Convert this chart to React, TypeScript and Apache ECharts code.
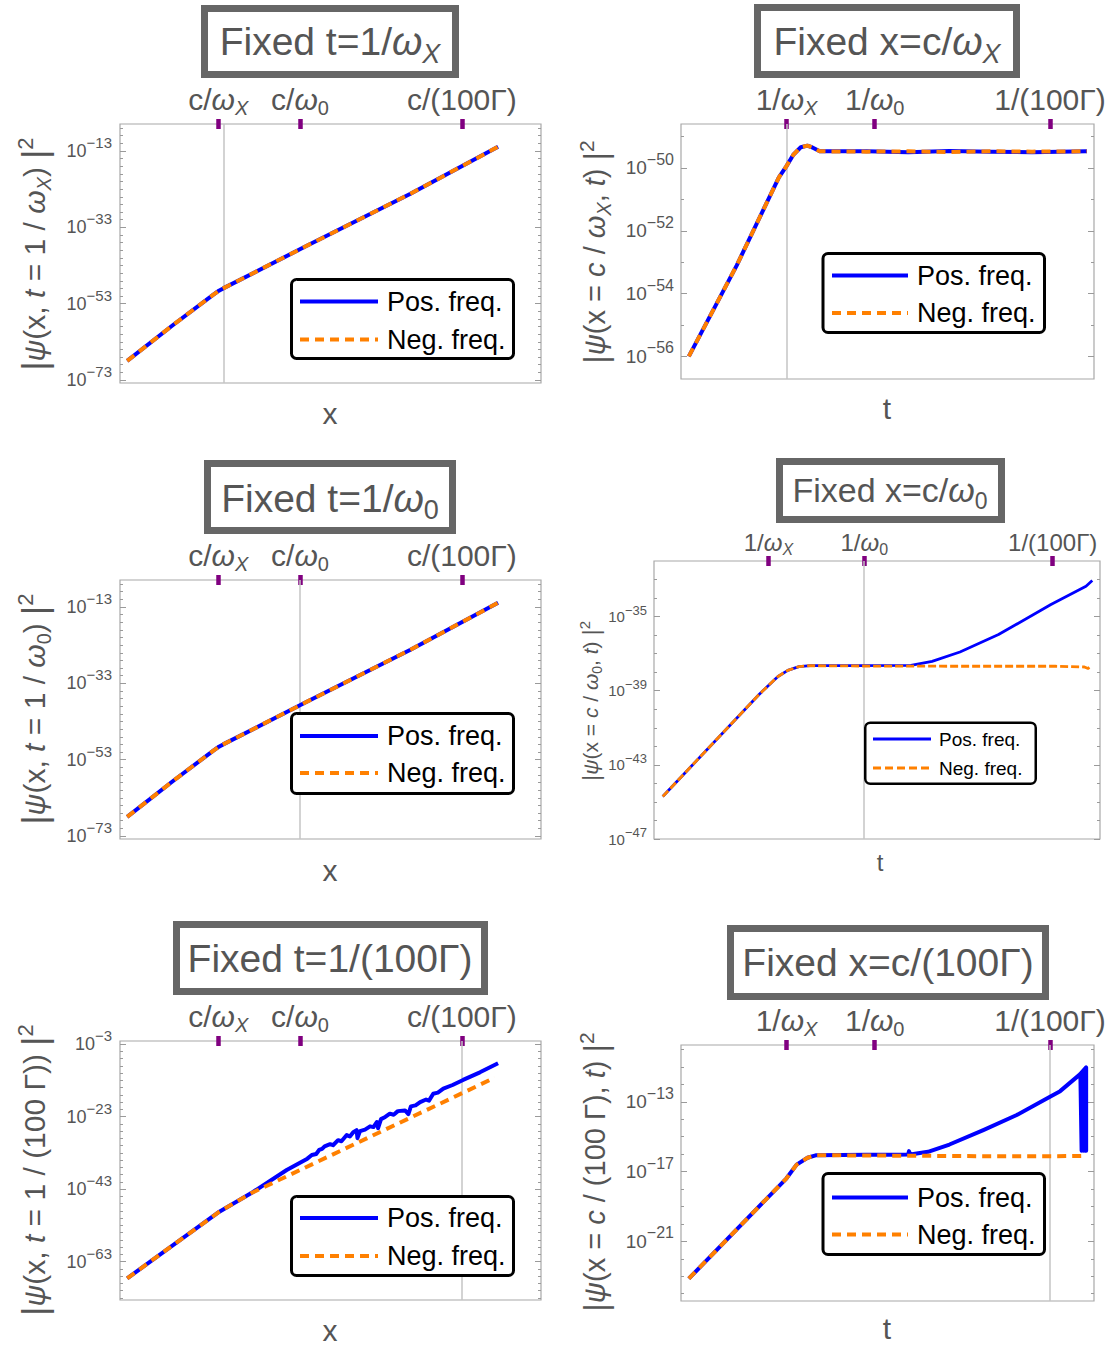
import React, { useEffect, useRef } from "react";
import * as echarts from "echarts";

const FONT = '"Liberation Sans", Arial, Helvetica, sans-serif';
const TXT = "#555555";
const FRAME = "#a8a8a8";
const TICK = "#9a9a9a";
const BLUE = "#0000ff";
const ORANGE = "#ff8000";
const PURPLE = "#800080";
const VLINE = "#c4c4c4";

// ---------- data (x: 0–100 across each frame, y: log10 |psi|^2) ----------
// Panel A: Fixed t = 1/omegaX
const aX = [1.7, 12.6, 22.1, 23.5, 24.5, 43.9, 69.0, 89.8];
const aPos = [-68.0, -58.6, -50.7, -49.6, -49.0, -38.1, -24.2, -11.9];
const aNeg = [-68.0, -58.6, -50.7, -49.6, -49.0, -38.1, -24.2, -11.9];

// Panel B: Fixed x = c/omegaX
const bX = [1.9, 13.5, 23.7, 25.5, 27.2, 29.0, 30.6, 31.7, 33.6, 45, 55, 65, 75, 85, 98.3];
const bPos = [-56.0, -53.1, -50.3, -49.95, -49.58, -49.34, -49.29, -49.34, -49.47, -49.47, -49.5, -49.46, -49.48, -49.5, -49.47];
const bNeg = [-56.0, -53.1, -50.3, -49.95, -49.58, -49.34, -49.29, -49.34, -49.47, -49.48, -49.47, -49.49, -49.47, -49.48, -49.47];

// Panel C: Fixed t = 1/omega0
const cX = [1.7, 12.6, 22.1, 23.5, 24.5, 43.9, 69.0, 89.8];
const cPos = [-68.0, -58.6, -50.7, -49.6, -49.0, -38.1, -24.2, -11.9];
const cNeg = [-68.0, -58.6, -50.7, -49.6, -49.0, -38.1, -24.2, -11.9];

// Panel D: Fixed x = c/omega0
const dPosX = [1.96, 23.56, 27.8, 30.0, 32.5, 35.0, 45, 57.6, 62.35, 68.6, 77.25, 89.0, 96.86, 98.27];
const dPos = [-44.71, -39.2, -38.23, -37.9, -37.7, -37.65, -37.65, -37.63, -37.42, -36.91, -35.97, -34.35, -33.36, -33.05];
const dNegX = [1.96, 23.56, 27.8, 30.0, 32.5, 35.0, 50, 70, 90, 96.5, 97.3, 98.0];
const dNeg = [-44.71, -39.2, -38.23, -37.9, -37.7, -37.65, -37.67, -37.68, -37.68, -37.72, -37.8, -37.68];

// Panel E: Fixed t = 1/(100 Gamma)
const ePosX = [1.71, 23.6, 31.1, 39.6, 44.5, 45.56, 46.6, 47.3, 48.0, 48.6, 49.9, 50.6, 51.8, 52.6, 53.85, 54.6, 55.4, 56.2, 56.4, 57.0, 58.2, 59.4, 60.2, 61.0, 61.3, 62.0, 63.0, 64.1, 65.0, 66.0, 67.7, 68.5, 69.1, 70.2, 71.3, 72.7, 73.4, 74.4, 75.5, 76.8, 79.0, 81.5, 85.5, 89.8];
const ePos = [-67.58, -49.22, -44.15, -37.73, -34.6, -33.6, -33.3, -32.2, -31.9, -31.2, -30.6, -30.9, -29.5, -29.8, -28.1, -28.5, -27.3, -26.75, -28.95, -27.0, -26.6, -25.7, -25.9, -24.5, -26.2, -23.7, -23.1, -22.2, -22.5, -21.5, -21.3, -22.3, -20.2, -19.9, -19.0, -18.3, -18.6, -16.7, -16.4, -15.3, -14.3, -12.9, -10.8, -8.3];
const eNegX = [1.71, 23.6, 31.1, 89.0];
const eNeg = [-67.58, -49.22, -44.15, -12.29];

// Panel F: Fixed x = c/(100 Gamma)
const fPosX = [1.89, 25.5, 28.0, 30.64, 32.8, 45, 52, 55.0, 55.2, 55.5, 59.8, 65.0, 73.2, 81.3, 89.35, 91.8, 96.6, 98.1, 98.1, 97.8, 97.8, 97.4, 97.4, 97.0, 97.0, 96.7];
const fPos = [-23.14, -17.4, -16.6, -16.21, -16.06, -16.04, -16.03, -16.02, -15.83, -16.02, -15.87, -15.45, -14.62, -13.76, -12.71, -12.39, -11.43, -11.03, -15.8, -11.15, -15.8, -11.25, -15.8, -11.35, -15.8, -11.4];
const fNegX = [1.89, 25.5, 28.0, 30.64, 32.8, 45, 60, 75, 90, 97.6];
const fNeg = [-23.14, -17.4, -16.6, -16.21, -16.06, -16.08, -16.1, -16.12, -16.12, -16.1];

// ---------- ticks ----------
const aMajor = [-73, -53, -33, -13];
const aMinor = [-71, -69, -67, -65, -63, -61, -59, -57, -55, -51, -49, -47, -45, -43, -41, -39, -37, -35, -31, -29, -27, -25, -23, -21, -19, -17, -15, -11, -9, -7];
const eMajor = [-63, -43, -23, -3];
const eMinor = [-73, -71, -69, -67, -65, -61, -59, -57, -55, -53, -51, -49, -47, -45, -41, -39, -37, -35, -33, -31, -29, -27, -25, -21, -19, -17, -15, -13, -11, -9, -7, -5];
const bMajor = [-56, -54, -52, -50];
const bMinor = [-55, -53, -51, -49];
const dMajor = [-47, -43, -39, -35];
const dMinor = [-46, -45, -44, -42, -41, -40, -38, -37, -36, -34, -33];
const fMajor = [-21, -17, -13];
const fMinor = [-24, -23, -22, -20, -19, -18, -16, -15, -14, -12, -11, -10];

const leftTopTicks = [23.35, 42.76, 81.2];
const rightTopTicks = [25.55, 46.9, 89.35];
const dTopTicks = [25.65, 47.14, 89.4];
const xTopLabels = ["{n|c/}{w|ω}{s|X}", "{n|c/}{w|ω}{z|0}", "{n|c/(100Γ)}"];
const tTopLabels = ["{n|1/}{w|ω}{s|X}", "{n|1/}{w|ω}{z|0}", "{n|1/(100Γ)}"];

const seriesNames = ["Pos. freq.", "Neg. freq."];

type Panel = {
  grid: { left: number; top: number; width: number; height: number };
  yMin: number;
  yMax: number;
  major: number[];
  minor: number[];
  topTicks: number[];
  topLabels: string[];
  vline: number;
  tickSize: number;
  supSize: number;
  topSize: number;
  lblMargin: number;
  topMargin: number;
  lw: number;
  dash: number[];
  posX: number[];
  pos: number[];
  negX: number[];
  neg: number[];
};

const panels: Panel[] = [
  { grid: { left: 120, top: 124, width: 421, height: 259 }, yMin: -73.79, yMax: -5.93, major: aMajor, minor: aMinor, topTicks: leftTopTicks, topLabels: xTopLabels, vline: 24.6, tickSize: 18, supSize: 15, topSize: 30, lblMargin: 8, topMargin: 11, lw: 4, dash: [9, 6], posX: aX, pos: aPos, negX: aX, neg: aNeg },
  { grid: { left: 681, top: 124, width: 413, height: 255 }, yMin: -56.72, yMax: -48.6, major: bMajor, minor: bMinor, topTicks: rightTopTicks, topLabels: tTopLabels, vline: 25.55, tickSize: 19, supSize: 16, topSize: 30, lblMargin: 7, topMargin: 11, lw: 4, dash: [9, 6], posX: bX, pos: bPos, negX: bX, neg: bNeg },
  { grid: { left: 120, top: 580, width: 421, height: 259 }, yMin: -73.79, yMax: -5.93, major: aMajor, minor: aMinor, topTicks: leftTopTicks, topLabels: xTopLabels, vline: 42.76, tickSize: 18, supSize: 15, topSize: 30, lblMargin: 8, topMargin: 11, lw: 4, dash: [9, 6], posX: cX, pos: cPos, negX: cX, neg: cNeg },
  { grid: { left: 654, top: 561, width: 446, height: 278 }, yMin: -47, yMax: -32, major: dMajor, minor: dMinor, topTicks: dTopTicks, topLabels: tTopLabels, vline: 47.14, tickSize: 15, supSize: 13, topSize: 24, lblMargin: 7, topMargin: 9, lw: 2.8, dash: [8, 3], posX: dPosX, pos: dPos, negX: dNegX, neg: dNeg },
  { grid: { left: 120, top: 1041, width: 421, height: 259 }, yMin: -73.56, yMax: -2.17, major: eMajor, minor: eMinor, topTicks: leftTopTicks, topLabels: xTopLabels, vline: 81.2, tickSize: 18, supSize: 15, topSize: 30, lblMargin: 8, topMargin: 11, lw: 4, dash: [9, 6], posX: ePosX, pos: ePos, negX: eNegX, neg: eNeg },
  { grid: { left: 681, top: 1045, width: 413, height: 256 }, yMin: -24.42, yMax: -9.745, major: fMajor, minor: fMinor, topTicks: rightTopTicks, topLabels: tTopLabels, vline: 89.35, tickSize: 19, supSize: 16, topSize: 30, lblMargin: 7, topMargin: 11, lw: 4, dash: [9, 6], posX: fPosX, pos: fPos, negX: fNegX, neg: fNeg },
];

const zip = (xs: number[], ys: number[]) => xs.map((x, i) => [x, ys[i]]);

const topRich = (s: number) => {
  const lh = Math.round(s * 1.25);
  const ss = Math.round(s * 0.68);
  return {
    n: { fontSize: s, fontFamily: FONT, color: TXT, lineHeight: lh },
    w: { fontSize: s, fontFamily: FONT, color: TXT, fontStyle: "italic", lineHeight: lh },
    s: { fontSize: ss, fontFamily: FONT, color: TXT, fontStyle: "italic", lineHeight: ss, verticalAlign: "bottom" },
    z: { fontSize: ss, fontFamily: FONT, color: TXT, lineHeight: ss, verticalAlign: "bottom" },
  };
};

const tickRich = (b: number, e: number) => ({
  b: { fontSize: b, fontFamily: FONT, color: TXT, lineHeight: Math.round(b * 1.75) },
  e: { fontSize: e, fontFamily: FONT, color: TXT, lineHeight: e, verticalAlign: "top" },
});

// rich dictionary for graphic texts (zrender style uses fill)
const gRich = (s: number, color: string) => {
  const lh = Math.round(s * 1.3);
  const ss = Math.round(s * 0.68);
  return {
    n: { fontSize: s, fontFamily: FONT, fill: color, lineHeight: lh },
    i: { fontSize: s, fontFamily: FONT, fill: color, fontStyle: "italic", lineHeight: lh },
    w: { fontSize: s, fontFamily: FONT, fill: color, fontStyle: "italic", lineHeight: lh },
    b: { fontSize: Math.round(s * 1.15), fontFamily: FONT, fill: color, lineHeight: lh },
    s: { fontSize: ss, fontFamily: FONT, fill: color, fontStyle: "italic", lineHeight: ss, verticalAlign: "bottom" },
    z: { fontSize: ss, fontFamily: FONT, fill: color, lineHeight: ss, verticalAlign: "bottom" },
    p: { fontSize: Math.round(s * 0.72), fontFamily: FONT, fill: color, lineHeight: Math.round(s * 0.6), verticalAlign: "top" },
  };
};

const titles = [
  { box: [201, 5, 258, 73], lw: 7, cx: 330, cy: 41.5, size: 39, text: "{n|Fixed t=1/}{w|ω}{s|X}" },
  { box: [754, 4, 266, 74], lw: 7, cx: 887, cy: 41.5, size: 39, text: "{n|Fixed x=c/}{w|ω}{s|X}" },
  { box: [204, 460, 252, 74], lw: 7, cx: 330, cy: 498, size: 39, text: "{n|Fixed t=1/}{w|ω}{z|0}" },
  { box: [776, 458, 229, 65], lw: 7, cx: 890, cy: 490, size: 34, text: "{n|Fixed x=c/}{w|ω}{z|0}" },
  { box: [173, 921, 315, 74], lw: 7, cx: 330, cy: 958, size: 39, text: "{n|Fixed t=1/(100Γ)}" },
  { box: [727, 925, 322, 75], lw: 7, cx: 888, cy: 962, size: 39, text: "{n|Fixed x=c/(100Γ)}" },
];

const legends = [
  { box: [290, 278, 225, 82], bw: 3, x1: 300, x2: 378, y1: 301.5, y2: 339.5, tx: 387, size: 27, lw: 4, dash: [9, 6] },
  { box: [821.5, 252, 224.5, 82], bw: 3, x1: 832, x2: 908, y1: 275.5, y2: 313, tx: 917, size: 27, lw: 4, dash: [9, 6] },
  { box: [290, 712, 225, 83], bw: 3, x1: 300, x2: 378, y1: 736, y2: 773, tx: 387, size: 27, lw: 4, dash: [9, 6] },
  { box: [864, 721.5, 173, 63.5], bw: 2.5, x1: 873, x2: 931, y1: 739, y2: 768, tx: 939, size: 19, lw: 2.8, dash: [8, 4] },
  { box: [290, 1195, 225, 82], bw: 3, x1: 300, x2: 378, y1: 1218, y2: 1256, tx: 387, size: 27, lw: 4, dash: [9, 6] },
  { box: [821.5, 1172, 224.5, 84], bw: 3, x1: 832, x2: 908, y1: 1197.5, y2: 1234.5, tx: 917, size: 27, lw: 4, dash: [9, 6] },
];

const xNames = [
  { x: 330, y: 413, size: 30, text: "x" },
  { x: 887, y: 408, size: 30, text: "t" },
  { x: 330, y: 870, size: 30, text: "x" },
  { x: 880, y: 862, size: 24, text: "t" },
  { x: 330, y: 1330, size: 30, text: "x" },
  { x: 887, y: 1328, size: 30, text: "t" },
];

const yNames = [
  { x: 34, y: 254, size: 30, text: "{b||}{i|ψ}{n|(x, }{i|t}{n| = 1 / }{i|ω}{s|X}{n|) }{b||}{p|2}" },
  { x: 595, y: 252, size: 29, text: "{b||}{i|ψ}{n|(x = }{i|c}{n| / }{i|ω}{s|X}{n|, }{i|t}{n|) }{b||}{p|2}" },
  { x: 34, y: 709, size: 30, text: "{b||}{i|ψ}{n|(x, }{i|t}{n| = 1 / }{i|ω}{z|0}{n|) }{b||}{p|2}" },
  { x: 590, y: 701, size: 21, text: "{b||}{i|ψ}{n|(x = }{i|c}{n| / }{i|ω}{z|0}{n|, }{i|t}{n|) }{b||}{p|2}" },
  { x: 34, y: 1170, size: 30, text: "{b||}{i|ψ}{n|(x, }{i|t}{n| = 1 / (100 Γ)) }{b||}{p|2}" },
  { x: 595, y: 1172, size: 29, text: "{b||}{i|ψ}{n|(x = }{i|c}{n| / (100 Γ), }{i|t}{n|) }{b||}{p|2}" },
];

function buildOption() {
  const grid: any[] = [];
  const xAxis: any[] = [];
  const yAxis: any[] = [];
  const series: any[] = [];

  panels.forEach((p, i) => {
    grid.push({ ...p.grid, show: true, borderColor: FRAME, borderWidth: 1.2, backgroundColor: "transparent" });
    xAxis.push({ gridIndex: i, type: "value", min: 0, max: 100, show: false });
    xAxis.push({
      gridIndex: i,
      type: "value",
      position: "top",
      min: 0,
      max: 100,
      offset: -5,
      axisLine: { show: false },
      splitLine: { show: false },
      axisTick: { show: true, inside: false, length: 10, customValues: p.topTicks, lineStyle: { color: PURPLE, width: 4.5 } },
      axisLabel: {
        show: true,
        customValues: p.topTicks,
        margin: p.topMargin,
        formatter: (v: number) => {
          const k = p.topTicks.findIndex((t) => Math.abs(t - v) < 1e-6);
          return k >= 0 ? p.topLabels[k] : "";
        },
        rich: topRich(p.topSize),
      },
    });
    const base = {
      gridIndex: i,
      type: "value",
      min: p.yMin,
      max: p.yMax,
      axisLine: { show: false },
      splitLine: { show: false },
    };
    yAxis.push({
      ...base,
      position: "left",
      axisTick: { show: true, inside: true, length: 6, customValues: p.major, lineStyle: { color: TICK, width: 1 } },
      axisLabel: {
        show: true,
        customValues: p.major,
        margin: p.lblMargin,
        formatter: (v: number) => `{b|10}{e|−${Math.round(-v)}}`,
        rich: tickRich(p.tickSize, p.supSize),
      },
    });
    yAxis.push({
      ...base,
      position: "left",
      axisTick: { show: true, inside: true, length: 3, customValues: p.minor, lineStyle: { color: TICK, width: 1 } },
      axisLabel: { show: false },
    });
    yAxis.push({
      ...base,
      position: "right",
      axisTick: { show: true, inside: true, length: 6, customValues: p.major, lineStyle: { color: TICK, width: 1 } },
      axisLabel: { show: false },
    });
    yAxis.push({
      ...base,
      position: "right",
      axisTick: { show: true, inside: true, length: 3, customValues: p.minor, lineStyle: { color: TICK, width: 1 } },
      axisLabel: { show: false },
    });

    series.push({
      name: seriesNames[0],
      type: "line",
      xAxisIndex: 2 * i,
      yAxisIndex: 4 * i,
      data: zip(p.posX, p.pos),
      symbol: "none",
      silent: true,
      z: 3,
      lineStyle: { color: BLUE, width: p.lw, cap: "butt", join: "round" },
      markLine: {
        silent: true,
        symbol: ["none", "none"],
        label: { show: false },
        lineStyle: { color: VLINE, width: 1.5, type: "solid" },
        data: [{ xAxis: p.vline }],
        z: 1,
      },
    });
    series.push({
      name: seriesNames[1],
      type: "line",
      xAxisIndex: 2 * i,
      yAxisIndex: 4 * i,
      data: zip(p.negX, p.neg),
      symbol: "none",
      silent: true,
      z: 4,
      lineStyle: { color: ORANGE, width: p.lw, type: p.dash, cap: "butt" },
    });
  });

  const elements: any[] = [];
  titles.forEach((t) => {
    const [x, y, w, h] = t.box;
    elements.push({
      type: "rect",
      z: 10,
      shape: { x: x + t.lw / 2, y: y + t.lw / 2, width: w - t.lw, height: h - t.lw },
      style: { fill: "#ffffff", stroke: "#666666", lineWidth: t.lw },
    });
    elements.push({
      type: "text",
      z: 11,
      x: t.cx,
      y: t.cy,
      style: { text: t.text, rich: gRich(t.size, TXT), align: "center", verticalAlign: "middle" },
    });
  });
  legends.forEach((l) => {
    const [x, y, w, h] = l.box;
    elements.push({
      type: "rect",
      z: 10,
      shape: { x: x + l.bw / 2, y: y + l.bw / 2, width: w - l.bw, height: h - l.bw, r: 5 },
      style: { fill: "#ffffff", stroke: "#000000", lineWidth: l.bw },
    });
    elements.push({
      type: "line",
      z: 11,
      shape: { x1: l.x1, y1: l.y1, x2: l.x2, y2: l.y1 },
      style: { stroke: BLUE, lineWidth: l.lw },
    });
    elements.push({
      type: "line",
      z: 11,
      shape: { x1: l.x1, y1: l.y2, x2: l.x2, y2: l.y2 },
      style: { stroke: ORANGE, lineWidth: l.lw, lineDash: l.dash },
    });
    [seriesNames[0], seriesNames[1]].forEach((name, k) => {
      elements.push({
        type: "text",
        z: 11,
        x: l.tx,
        y: k === 0 ? l.y1 : l.y2,
        style: { text: name, fontSize: l.size, fontFamily: FONT, fill: "#000000", align: "left", verticalAlign: "middle" },
      });
    });
  });
  xNames.forEach((n) => {
    elements.push({
      type: "text",
      z: 11,
      x: n.x,
      y: n.y,
      style: { text: n.text, fontSize: n.size, fontFamily: FONT, fill: TXT, align: "center", verticalAlign: "middle" },
    });
  });
  yNames.forEach((n) => {
    elements.push({
      type: "text",
      z: 11,
      x: n.x,
      y: n.y,
      rotation: Math.PI / 2,
      style: { text: n.text, rich: gRich(n.size, TXT), align: "center", verticalAlign: "middle" },
    });
  });

  return {
    animation: false,
    backgroundColor: "#ffffff",
    grid,
    xAxis,
    yAxis,
    series,
    graphic: { elements },
  };
}

export default function App() {
  const ref = useRef<HTMLDivElement>(null);
  useEffect(() => {
    if (!ref.current) return;
    const chart = echarts.init(ref.current, undefined, { renderer: "svg" });
    chart.setOption(buildOption() as any);
    return () => {
      chart.dispose();
    };
  }, []);
  return (
    <div
      ref={ref}
      style={{ position: "absolute", left: 0, top: 0, width: 1115, height: 1346, background: "#ffffff" }}
    />
  );
}
